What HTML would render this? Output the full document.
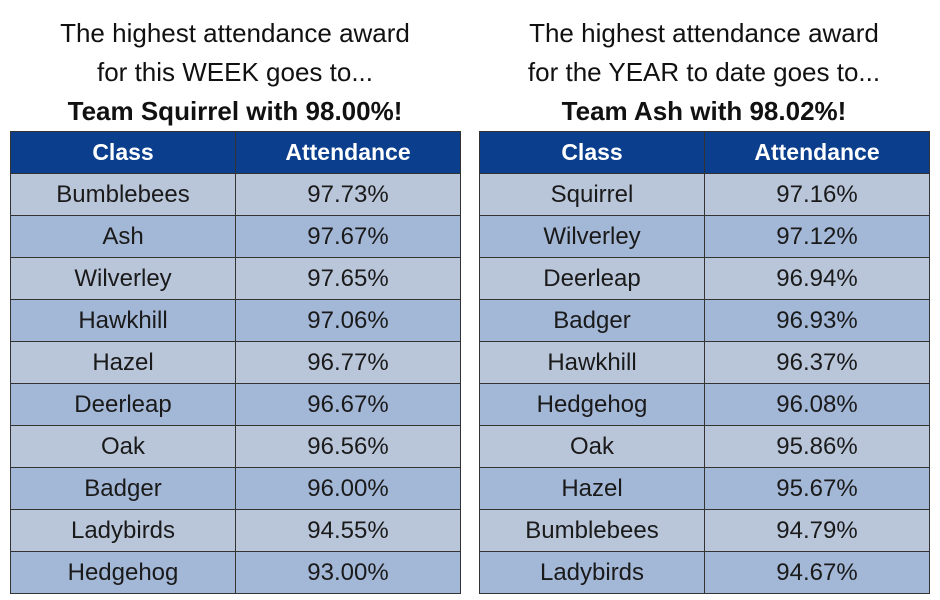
<!DOCTYPE html>
<html><head><meta charset="utf-8"><style>
body{margin:0;width:940px;height:600px;background:#fff;font-family:"Liberation Sans",sans-serif;position:relative;overflow:hidden}
.title{position:absolute;width:450px;text-align:center;color:#111;font-size:26px;line-height:39px}
.title b{font-size:26px}
table{position:absolute;top:131px;width:451px;border-collapse:collapse;table-layout:fixed}
td,th{border:1.5px solid #333;height:41px;text-align:center;font-size:24px;padding:0;color:#1a1a1a;font-weight:normal}
th{background:#0b3f8e;color:#fff;font-weight:bold;font-size:23px}
tr.l td{background:#b9c6da}
tr.d td{background:#a3b7d7}
</style></head><body>
<div class="title" style="left:10px;top:14px">The highest attendance award<br>for this WEEK goes to...<br><b>Team Squirrel with 98.00%!</b></div>
<div class="title" style="left:479px;top:14px">The highest attendance award<br>for the YEAR to date goes to...<br><b>Team Ash with 98.02%!</b></div>
<table id="t1" style="left:10px"></table>
<table id="t2" style="left:479px"></table>
<script>
const weekClasses=["Bumblebees","Ash","Wilverley","Hawkhill","Hazel","Deerleap","Oak","Badger","Ladybirds","Hedgehog"];
const weekValues=["97.73%","97.67%","97.65%","97.06%","96.77%","96.67%","96.56%","96.00%","94.55%","93.00%"];
const yearClasses=["Squirrel","Wilverley","Deerleap","Badger","Hawkhill","Hedgehog","Oak","Hazel","Bumblebees","Ladybirds"];
const yearValues=["97.16%","97.12%","96.94%","96.93%","96.37%","96.08%","95.86%","95.67%","94.79%","94.67%"];
function build(id,cls,vals){
  const t=document.getElementById(id);
  let h=document.createElement('tr');
  
  
  h.innerHTML='<th>Class</th><th>Attendance</th>';
  t.appendChild(h);
  cls.forEach((c,i)=>{
    const r=document.createElement('tr');
    r.className=i%2?'d':'l';
    
    
    const a=document.createElement('td');a.textContent=c;
    const b=document.createElement('td');b.textContent=vals[i];
    r.appendChild(a);r.appendChild(b);t.appendChild(r);
  });
}
build('t1',weekClasses,weekValues);
build('t2',yearClasses,yearValues);
</script>
</body></html>
